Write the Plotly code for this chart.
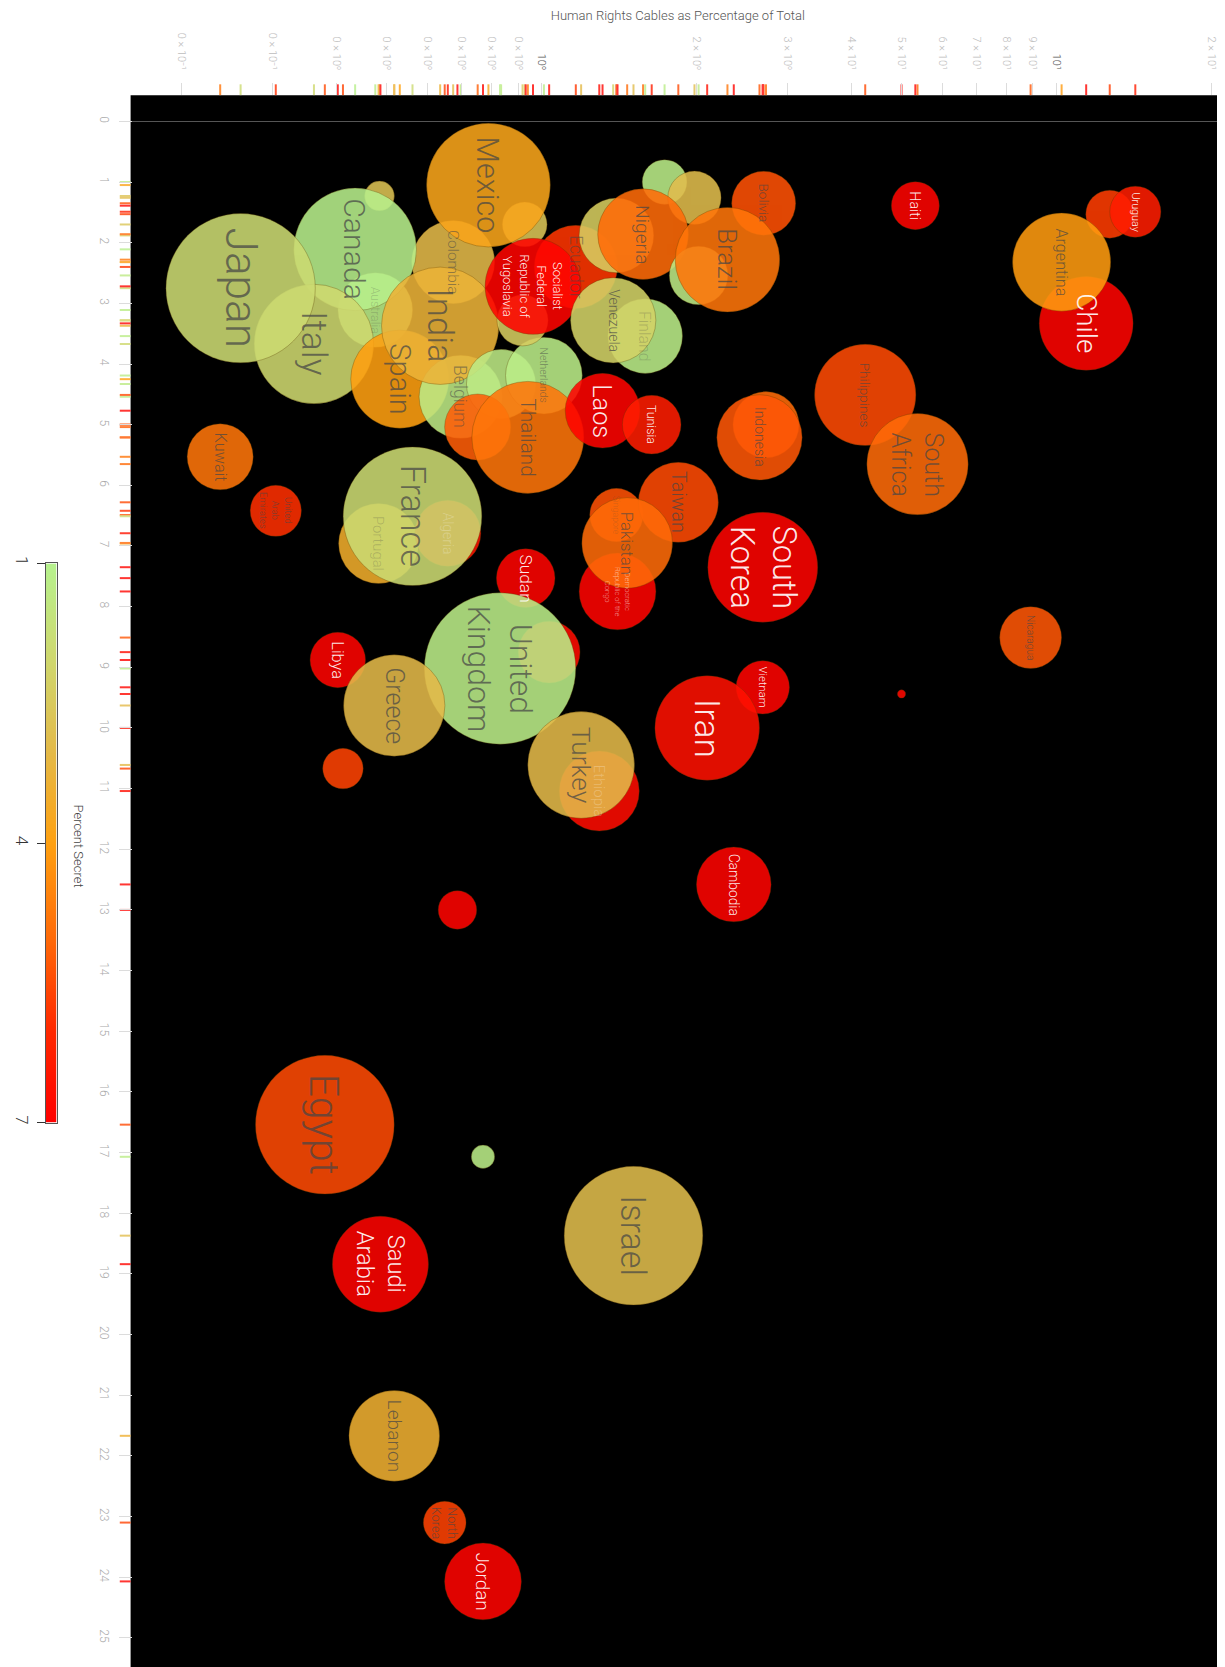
import numpy as np
import plotly.graph_objects as go

# ---------------- data ----------------
country = ["", "Australia", "Colombia", "", "Mexico", "Canada", "Italy", "Japan",
           "Portugal", "Algeria", "Spain", "Belgium", "India", "", "Netherlands", "",
           "Ecuador", "", "", "", "Nigeria", "", "Bolivia", "Brazil",
           "Socialist Federal Republic of Yugoslavia", "Finland", "Venezuela", "",
           "Thailand", "Laos", "Tunisia", "", "Indonesia", "Philippines", "South Africa",
           "Kuwait", "United Arab Emirates", "Singapore", "Taiwan",
           "Democratic Republic of the Congo", "Pakistan", "South Korea", "France",
           "Sudan", "", "United Kingdom", "Libya", "Greece", "Vietnam", "Iran", "",
           "Nicaragua", "Ethiopia", "Turkey", "", "Cambodia", "", "Egypt", "", "Israel",
           "Saudi Arabia", "Lebanon", "North Korea", "Jordan", "Haiti", "", "Uruguay",
           "Chile", "Argentina"]

label_text = ["", "Australia", "Colombia", "", "Mexico", "Canada", "Italy", "Japan",
              "Portugal", "Algeria", "Spain", "Belgium", "India", "", "Netherlands", "",
              "Ecuador", "", "", "", "Nigeria", "", "Bolivia", "Brazil",
              "Socialist<br>Federal<br>Republic of<br>Yugoslavia", "Finland", "Venezuela", "",
              "Thailand", "Laos", "Tunisia", "", "Indonesia", "Philippines", "South<br>Africa",
              "Kuwait", "United<br>Arab<br>Emirates", "Singapore", "Taiwan",
              "Democratic<br>Republic of the<br>Congo", "Pakistan", "South<br>Korea", "France",
              "Sudan", "", "United<br>Kingdom", "Libya", "Greece", "Vietnam", "Iran", "",
              "Nicaragua", "Ethiopia", "Turkey", "", "Cambodia", "", "Egypt", "", "Israel",
              "Saudi<br>Arabia", "Lebanon", "North<br>Korea", "Jordan", "Haiti", "", "Uruguay",
              "Chile", "Argentina"]

# Human rights cables as percentage of total (log axis)
hr_pct = [0.484, 0.475, 0.673, 0.927, 0.788, 0.434, 0.361, 0.260,
          0.482, 0.657, 0.530, 0.696, 0.635, 0.834, 1.01, 0.918,
          1.165, 1.397, 1.733, 1.981, 1.574, 2.018, 2.70, 2.296,
          0.962, 1.589, 1.377, 0.751,
          0.940, 1.313, 1.636, 2.728, 2.650, 4.253, 5.374,
          0.2373, 0.3043, 1.397, 1.843,
          1.404, 1.466, 2.689, 0.561,
          0.931, 1.034, 0.830, 0.4016, 0.517, 2.689, 2.097, 5.003,
          8.914, 1.294, 1.193, 0.411, 2.362, 0.686, 0.379, 0.769, 1.508,
          0.486, 0.517, 0.648, 0.769, 5.322, 12.70, 14.24,
          11.43, 10.24]

# vertical axis value
y_value = [1.23, 3.11, 2.32, 1.70, 1.05, 2.11, 3.67, 2.75,
           6.96, 6.79, 4.25, 4.54, 3.37, 4.33, 4.19, 3.28,
           2.40, 1.88, 1.00, 1.26, 1.86, 2.54, 1.35, 2.28,
           2.72, 3.54, 3.28, 5.04,
           5.21, 4.77, 5.00, 5.00, 5.21, 4.51, 5.65,
           5.53, 6.42, 6.49, 6.28,
           7.75, 6.95, 7.35, 6.51,
           7.53, 8.75, 9.02, 8.88, 9.63, 9.33, 10.00, 9.44,
           8.51, 11.04, 10.61, 10.67, 12.58, 13.00, 16.54, 17.07, 18.37,
           18.84, 21.67, 23.10, 24.07, 1.39, 1.53, 1.49,
           3.33, 2.32]

# percent secret (colour)
pct_secret = [2.7, 1.2, 3.0, 2.6, 3.8, 1.1, 2.0, 1.9,
              3.5, 6.5, 4.0, 1.3, 3.3, 1.3, 1.2, 2.4,
              5.8, 2.4, 1.2, 2.9, 5.0, 1.3, 5.4, 4.8,
              6.9, 1.2, 2.2, 5.2,
              4.8, 6.9, 6.3, 5.0, 5.3, 5.5, 5.0,
              4.8, 5.9, 5.4, 5.5,
              6.9, 5.0, 6.9, 1.9,
              6.9, 6.7, 1.2, 6.9, 3.0, 6.9, 6.6, 6.8,
              5.3, 6.7, 3.0, 5.6, 6.9, 6.9, 5.5, 1.2, 2.9,
              6.9, 3.4, 5.6, 6.9, 6.9, 5.7, 6.3,
              6.9, 4.1]

# total cables (bubble area)
total_cables = [78, 490, 608, 176, 1346, 1322, 1254, 1960,
                562, 384, 846, 608, 1210, 422, 518, 230,
                608, 490, 176, 250, 722, 302, 360, 960,
                810, 490, 640, 384,
                1102, 490, 302, 384, 640, 902, 902,
                384, 230, 250, 562,
                518, 722, 1061, 1690,
                302, 336, 2016, 270, 902, 250, 960, 6,
                336, 562, 1000, 144, 490, 130, 1690, 48, 1690,
                810, 722, 160, 518, 202, 202, 230,
                774, 846]

x_tick_vals = [0.2, 0.3, 0.4, 0.5, 0.6, 0.7, 0.8, 0.9, 1, 2, 3, 4, 5, 6, 7, 8, 9, 10, 20]
x_tick_text = ["0 × 10⁻¹", "0 × 10⁻¹", "0 × 10⁰", "0 × 10⁰", "0 × 10⁰", "0 × 10⁰",
               "0 × 10⁰", "0 × 10⁰", "10⁰", "2 × 10⁰", "3 × 10⁰", "4 × 10¹",
               "5 × 10¹", "6 × 10¹", "7 × 10¹", "8 × 10¹", "9 × 10¹", "10¹", "2 × 10¹"]
y_tick_vals = list(range(26))
cbar_levels = [1, 2, 3, 4, 5, 6, 7]
cbar_ticks = [1, 4, 7]

# ---------------- styling ----------------
W, H = 1225, 1667
FONT = "Roboto"
CS = [[0.0, "#b6f28e"], [0.17, "#cfd86e"], [0.33, "#e3bb4a"], [0.5, "#ffa010"],
      [0.67, "#ff6a08"], [0.83, "#ff2a00"], [1.0, "#ff0000"]]

plot_l, plot_r, plot_t = 122.6, 1217.0, 79.7
strip_top = 67.0
lstrip_l = 111.0
XR = [-0.7988, 1.3278]
YR = [25.58, -0.431]

faint = {"Australia", "Portugal", "Algeria", "Singapore", "Ethiopia", "Finland"}
semi = {"Colombia", "Belgium", "Ecuador", "Netherlands",
        "Democratic Republic of the Congo"}

sizeref = 2.0 / 11.38

fig = go.Figure()

# bubbles
fig.add_trace(go.Scatter(
    x=hr_pct, y=y_value, mode="markers", xaxis="x", yaxis="y",
    marker=dict(size=total_cables, sizemode="area", sizeref=sizeref,
                color=pct_secret, colorscale=CS, cmin=1, cmax=7, opacity=0.88,
                line=dict(width=1, color="rgba(90,60,0,0.35)")),
    hoverinfo="skip", showlegend=False))

# rug on top
fig.add_trace(go.Scatter(
    x=hr_pct, y=[0.42] * len(hr_pct), mode="markers", xaxis="x", yaxis="y2",
    marker=dict(symbol="line-ns", size=8,
                line=dict(width=2, color=pct_secret, colorscale=CS, cmin=1, cmax=7)),
    opacity=0.8, hoverinfo="skip", showlegend=False))

# rug on left
fig.add_trace(go.Scatter(
    x=[0.55] * len(y_value), y=y_value, mode="markers", xaxis="x3", yaxis="y",
    marker=dict(symbol="line-ew", size=8,
                line=dict(width=2, color=pct_secret, colorscale=CS, cmin=1, cmax=7)),
    opacity=0.8, hoverinfo="skip", showlegend=False))

# colour bar as a smooth heatmap
fig.add_trace(go.Heatmap(
    z=[[v, v] for v in cbar_levels], x=[0, 1], y=cbar_levels, xaxis="x4", yaxis="y4",
    colorscale=CS, zmin=1, zmax=7, zsmooth="best", showscale=False, hoverinfo="skip"))

# labels
annotations = []
for lab, nm, xv, yv, sv, cv in zip(label_text, country, hr_pct, y_value, pct_secret, total_cables):
    if not lab:
        continue
    d = np.sqrt(2.0 * cv / sizeref)
    maxlen = max(len(s) for s in lab.split("<br>"))
    fs = max(6.5, min(0.34 * d, 1.48 * d / maxlen))
    white = sv >= 6.2
    a = 0.92 if white else 0.72
    if nm in faint:
        a = 0.25
    elif nm in semi:
        a = 0.55
    col = f"rgba(255,255,255,{a})" if white else f"rgba(70,70,70,{a})"
    annotations.append(dict(x=np.log10(xv), y=yv, xref="x", yref="y", text=lab,
                            showarrow=False, textangle=90,
                            font=dict(family=FONT, size=fs, color=col, weight=300)))

annotations.append(dict(x=61 / W, y=1 - 835 / H, xref="paper", yref="paper",
                        text="Percent Secret", showarrow=False, textangle=90,
                        font=dict(family=FONT, size=13, color="#444", weight=300)))

tick_text_html = [f'<span style="color:#555">{t}</span>' if v in (1, 10) else t
                  for v, t in zip(x_tick_vals, x_tick_text)]

fig.update_layout(
    width=W, height=H, margin=dict(l=0, r=0, t=0, b=0),
    paper_bgcolor="white", plot_bgcolor="white", showlegend=False,
    annotations=annotations,
    shapes=[dict(type="rect", xref="x domain", yref="y domain", x0=0, x1=1, y0=0, y1=1,
                 fillcolor="black", line=dict(width=0), layer="below")],
    xaxis=dict(type="log", range=XR, domain=[plot_l / W, plot_r / W], anchor="y2",
               side="top", tickmode="array", tickvals=x_tick_vals, ticktext=tick_text_html,
               tickangle=90, ticks="inside", ticklen=12, tickcolor="#dcdcdc",
               ticklabelstandoff=10,
               tickfont=dict(family=FONT, size=11, color="#bdbdbd", weight=300),
               showgrid=False, zeroline=False, showline=False,
               title=dict(text="Human Rights Cables as Percentage of Total", standoff=16,
                          font=dict(family=FONT, size=13, color="#555", weight=300))),
    yaxis2=dict(domain=[1 - plot_t / H, 1 - strip_top / H], anchor="x", range=[0, 1],
                showticklabels=False, showgrid=False, zeroline=False, ticks=""),
    yaxis=dict(range=YR, domain=[0, 1 - plot_t / H], anchor="x3", side="left",
               tickmode="array", tickvals=y_tick_vals, tickangle=90, ticks="inside",
               ticklen=13, tickcolor="#dcdcdc", ticklabelstandoff=6,
               tickfont=dict(family=FONT, size=12, color="#aaaaaa", weight=300),
               showgrid=False, zeroline=True, zerolinecolor="#555", zerolinewidth=1,
               showline=False),
    xaxis3=dict(domain=[lstrip_l / W, plot_l / W], anchor="y", range=[0, 1],
                showticklabels=False, showgrid=False, zeroline=False, ticks=""),
    xaxis4=dict(domain=[37.5 / W, 48.5 / W], anchor="y4", range=[0, 1],
                showticklabels=False, showgrid=False, zeroline=False, ticks="",
                showline=True, mirror=True, linecolor="#555", linewidth=1),
    yaxis4=dict(domain=[1 - 1113.3 / H, 1 - 550.7 / H], anchor="x4", range=[7, 1],
                tickmode="array", tickvals=cbar_ticks, tickangle=90, ticks="outside",
                ticklen=8, tickcolor="#333", side="left",
                tickfont=dict(family=FONT, size=17, color="#333", weight=300),
                showgrid=False, zeroline=False, showline=True, mirror=True,
                linecolor="#555", linewidth=1),
)

fig.write_html("out.html")
